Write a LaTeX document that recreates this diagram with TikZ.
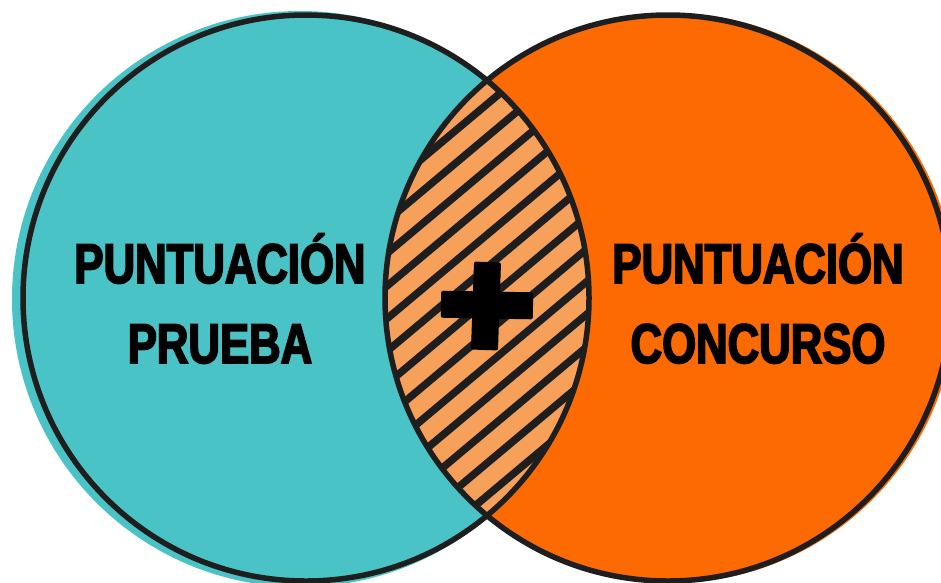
\documentclass[tikz,border=0pt]{standalone}
\usepackage{fontspec}
\newfontfamily\scorefont[FakeStretch=0.78,FakeBold=3]{Liberation Sans}
\definecolor{tealfill}{HTML}{4AC3C6}
\definecolor{orangefill}{HTML}{FD6A02}
\definecolor{lensfill}{HTML}{F6A05A}
\definecolor{inkc}{HTML}{1E1E1E}

\begin{document}
\begin{tikzpicture}
  [
   x=1pt,y=-1pt,
   disc/.style={circle,inner sep=0pt,minimum size=#1},
   ring/.style={circle,draw=inkc,line width=5.5pt,inner sep=0pt,minimum size=566pt},
   hatch/.style={draw=inkc,line width=7.5pt,line cap=round},
   bar/.style={fill=black,rounded corners=2pt,inner sep=0pt},
   lbl/.style={anchor=base,inner sep=0pt,font=\scorefont\bfseries\fontsize{56}{60}\selectfont}
  ]
   \useasboundingbox (0,0) rectangle (941,582);
   \clip (0,0) rectangle (941,582);

   \node[disc=576pt,fill=tealfill] (tP) at (300,299) {};
   \node[disc=570pt,fill=orangefill] (tC) at (671,298) {};

   \begin{scope}
     \clip (306,298) circle (283);
     \clip (668,298) circle (283);
     \fill[lensfill] (380,60) rectangle (600,540);
     \begin{scope}[shift={(487,300)},rotate=40]
       \foreach \k in {-8,...,8}
         \draw[hatch] (-320,\k*25) -- (320,\k*25);
     \end{scope}
   \end{scope}

   \node[ring] (oP) at (306,298) {};
   \node[ring] (oC) at (668,298) {};

   \node[bar,minimum width=27pt,minimum height=88pt,rotate=-2] (plusv) at (486,306) {};
   \node[bar,minimum width=92pt,minimum height=27pt,rotate=-1] (plush) at (487,305) {};

   \node[lbl] (p1) at (220,283) {PUNTUACIÓN};
   \node[lbl] (p2) at (220,363) {PRUEBA};
   \node[lbl] (c1) at (758,283) {PUNTUACIÓN};
   \node[lbl] (c2) at (758,363) {CONCURSO};

\end{tikzpicture}
\end{document}
